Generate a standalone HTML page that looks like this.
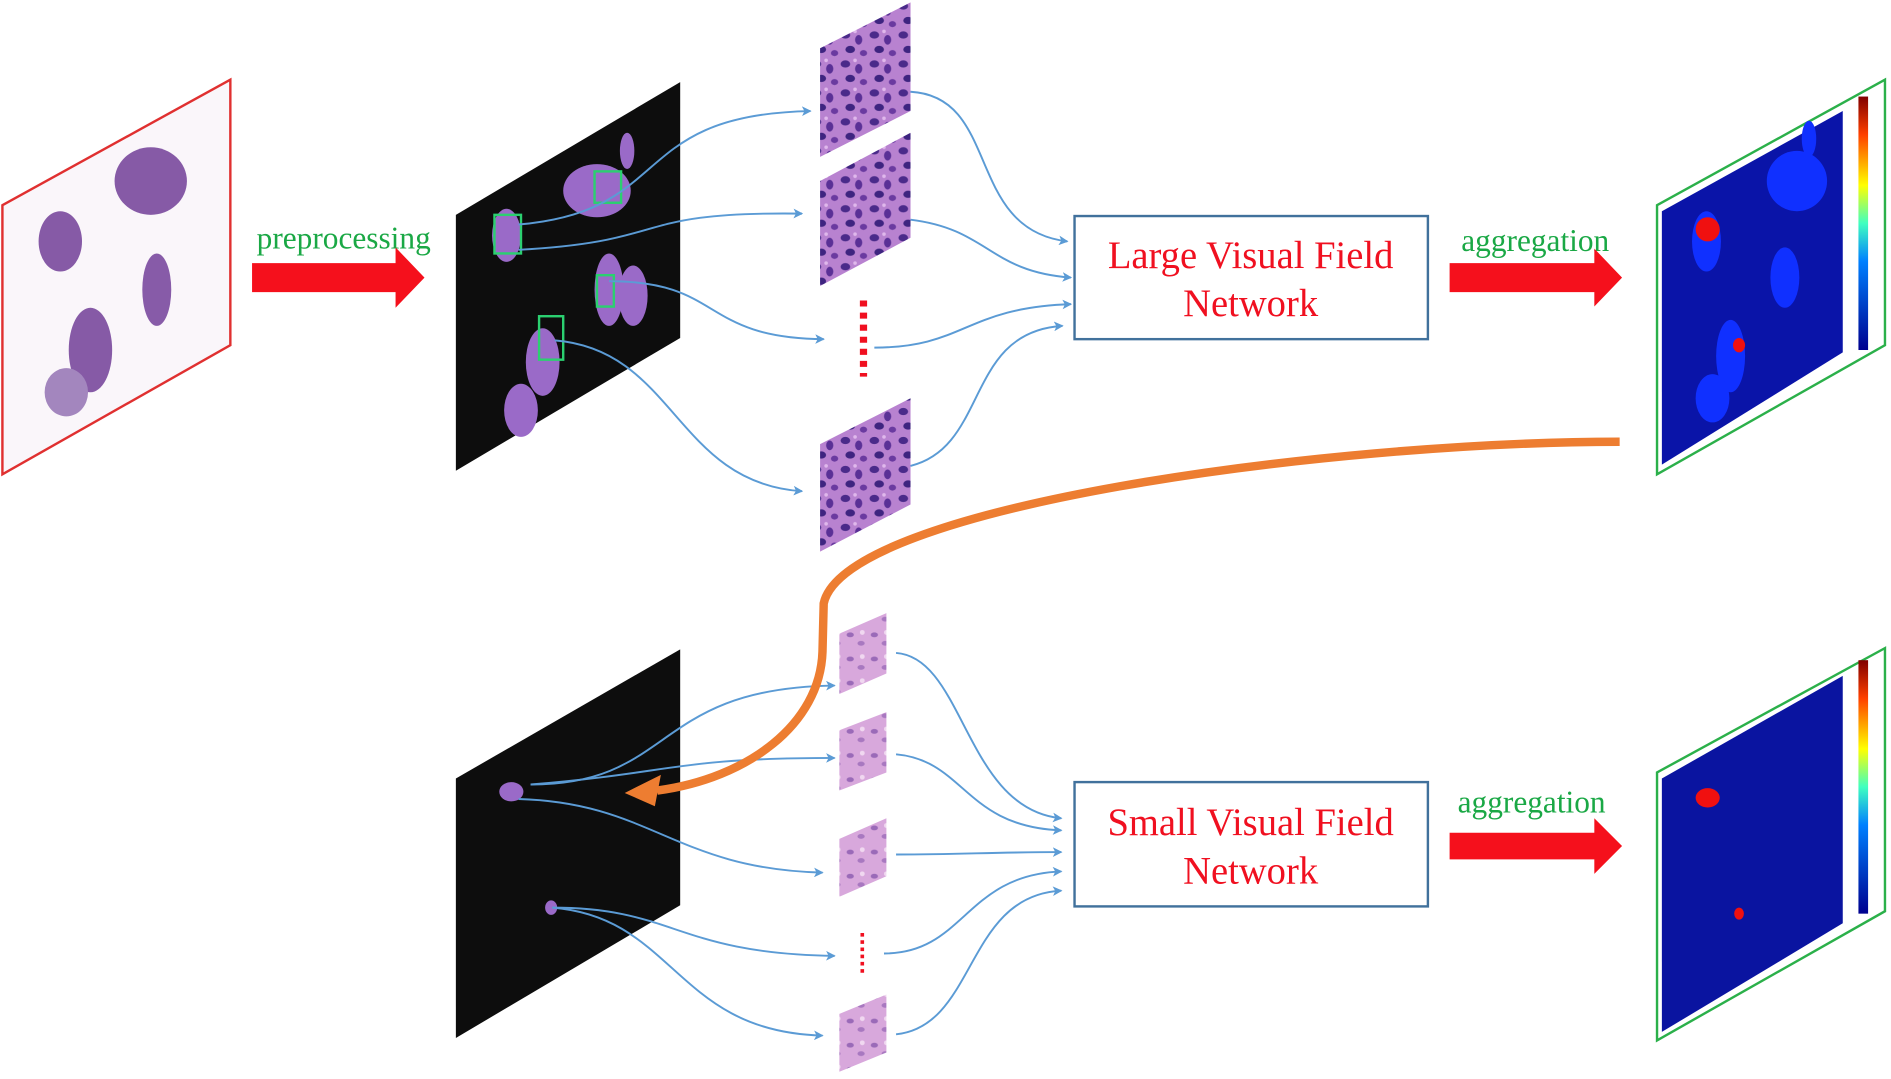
<!DOCTYPE html>
<html><head><meta charset="utf-8"><style>
html,body{margin:0;padding:0;background:#fff;}
svg{display:block}
</style></head><body>
<svg width="1891" height="1079" viewBox="0 0 1568 894" preserveAspectRatio="none" xmlns="http://www.w3.org/2000/svg">
<defs>
<pattern id="cells" width="24" height="24" patternUnits="userSpaceOnUse">
<rect width="24" height="24" fill="#b882d0"/>
<ellipse cx="5" cy="5" rx="4" ry="3" fill="#4a2a8a"/>
<ellipse cx="16" cy="9" rx="3" ry="4" fill="#5a3096"/>
<ellipse cx="9" cy="17" rx="4" ry="3" fill="#3e2480"/>
<ellipse cx="20" cy="20" rx="3" ry="2.5" fill="#6a3aa0"/>
<circle cx="13" cy="2" r="1.5" fill="#e0b8ec"/>
</pattern>
<pattern id="cells2" width="20" height="20" patternUnits="userSpaceOnUse">
<rect width="20" height="20" fill="#d8a8dc"/>
<ellipse cx="5" cy="6" rx="3" ry="2" fill="#9a6ab8"/>
<ellipse cx="14" cy="13" rx="3" ry="2" fill="#a878c0"/>
<circle cx="15" cy="4" r="2" fill="#f0d8f0"/>
</pattern>
<marker id="ba" markerWidth="8" markerHeight="8" refX="7" refY="4" orient="auto" markerUnits="userSpaceOnUse">
<path d="M0,0 L8,4 L0,8 L2,4 z" fill="#5b9bd5"/>
</marker>
<linearGradient id="cb" x1="0" y1="1" x2="0" y2="0"><stop offset="0" stop-color="#00008f"/><stop offset="0.35" stop-color="#0080ff"/><stop offset="0.5" stop-color="#40ffc0"/><stop offset="0.65" stop-color="#ffff00"/><stop offset="0.85" stop-color="#ff4000"/><stop offset="1" stop-color="#800000"/></linearGradient>
</defs>

<!-- slide 1 -->
<polygon points="2,170 191,66 191,286 2,393" fill="#faf6fa" stroke="#e03030" stroke-width="2"/>
<g fill="#7a4a9e" opacity="0.9">
<ellipse cx="50" cy="200" rx="18" ry="25"/>
<ellipse cx="125" cy="150" rx="30" ry="28"/>
<ellipse cx="130" cy="240" rx="12" ry="30"/>
<ellipse cx="75" cy="290" rx="18" ry="35"/>
<ellipse cx="55" cy="325" rx="18" ry="20" fill="#9a7ab8"/>
</g>

<text x="285" y="206" font-family="Liberation Serif, serif" font-size="26" fill="#1aa845" text-anchor="middle">preprocessing</text>
<polygon points="209,218 328,218 328,205 352,230 328,255 328,242 209,242" fill="#f5101c"/>

<!-- black slide top -->
<polygon points="378,178 564,68 564,280 378,390" fill="#0d0d0d"/>
<g fill="#9a6ac8">
<ellipse cx="495" cy="158" rx="28" ry="22"/>
<ellipse cx="520" cy="125" rx="6" ry="15"/>
<ellipse cx="420" cy="195" rx="12" ry="22"/>
<ellipse cx="505" cy="240" rx="12" ry="30"/>
<ellipse cx="525" cy="245" rx="12" ry="25"/>
<ellipse cx="450" cy="300" rx="14" ry="28"/>
<ellipse cx="432" cy="340" rx="14" ry="22"/>
</g>
<g fill="none" stroke="#2bd070" stroke-width="2">
<rect x="410" y="178" width="22" height="32"/><rect x="493" y="142" width="22" height="26"/>
<rect x="495" y="228" width="14" height="26"/><rect x="447" y="262" width="20" height="36"/>
</g>

<!-- top patches -->
<polygon points="680,40 755,2 755,92 680,130" fill="url(#cells)"/>
<polygon points="680,150 755,110 755,197 680,237" fill="url(#cells)"/>
<line x1="716" y1="249" x2="716" y2="312" stroke="#f01020" stroke-width="6" stroke-dasharray="5,5"/>
<polygon points="680,368 755,330 755,418 680,457" fill="url(#cells)"/>

<g fill="none" stroke="#5b9bd5" stroke-width="1.6" marker-end="url(#ba)">
<path d="M430,186 C560,175 520,95 672,92"/>
<path d="M430,207 C560,200 520,175 665,177"/>
<path d="M505,233 C600,233 580,280 683,281"/>
<path d="M460,282 C560,290 560,400 665,407"/>
<path d="M755,76 C830,80 800,190 885,200"/>
<path d="M755,182 C820,190 820,225 888,230"/>
<path d="M725,288 C800,288 800,255 888,252"/>
<path d="M755,386 C820,370 800,275 881,270"/>
</g>

<rect x="891" y="179" width="293" height="102" fill="#fff" stroke="#41719c" stroke-width="2"/>
<text x="1037" y="222" font-family="Liberation Serif, serif" font-size="32" fill="#f01020" text-anchor="middle">Large Visual Field</text>
<text x="1037" y="262" font-family="Liberation Serif, serif" font-size="32" fill="#f01020" text-anchor="middle">Network</text>

<text x="1273" y="208" font-family="Liberation Serif, serif" font-size="26" fill="#1aa845" text-anchor="middle">aggregation</text>
<polygon points="1202,218 1322,218 1322,206 1345,230 1322,254 1322,242 1202,242" fill="#f5101c"/>

<!-- heatmap top -->
<polygon points="1374,170 1563,66 1563,286 1374,393" fill="#fff" stroke="#2bb04a" stroke-width="2"/>
<polygon points="1378,175 1528,92 1528,292 1378,385" fill="#0a14a8"/>
<g fill="#1030ff">
<ellipse cx="1490" cy="150" rx="25" ry="25"/><ellipse cx="1500" cy="115" rx="6" ry="15"/>
<ellipse cx="1415" cy="200" rx="12" ry="25"/><ellipse cx="1480" cy="230" rx="12" ry="25"/>
<ellipse cx="1435" cy="295" rx="12" ry="30"/><ellipse cx="1420" cy="330" rx="14" ry="20"/>
</g>
<ellipse cx="1416" cy="190" rx="10" ry="10" fill="#f01010"/>
<ellipse cx="1442" cy="286" rx="5" ry="6" fill="#f01010"/>
<rect x="1541" y="80" width="8" height="210" fill="url(#cb)"/>

<!-- black slide bottom -->
<polygon points="378,645 564,538 564,750 378,860" fill="#0d0d0d"/>
<ellipse cx="424" cy="656" rx="10" ry="8" fill="#9a6ac8"/>
<ellipse cx="457" cy="752" rx="5" ry="6" fill="#9a6ac8"/>

<polygon points="696,525 735,508 735,558 696,575" fill="url(#cells2)"/>
<polygon points="696,605 735,590 735,640 696,655" fill="url(#cells2)"/>
<polygon points="696,695 735,678 735,726 696,743" fill="url(#cells2)"/>
<line x1="715" y1="773" x2="715" y2="806" stroke="#f01020" stroke-width="3" stroke-dasharray="3,3"/>
<polygon points="696,840 735,824 735,872 696,888" fill="url(#cells2)"/>

<g fill="none" stroke="#5b9bd5" stroke-width="1.6" marker-end="url(#ba)">
<path d="M440,650 C560,650 540,570 692,568"/>
<path d="M440,650 C560,640 560,628 692,628"/>
<path d="M430,662 C540,665 560,720 682,723"/>
<path d="M458,752 C560,752 560,790 692,792"/>
<path d="M458,752 C560,760 560,855 682,858"/>
<path d="M743,541 C800,545 800,670 880,678"/>
<path d="M743,625 C800,630 800,685 880,688"/>
<path d="M743,708 C800,708 820,706 880,706"/>
<path d="M733,790 C800,790 800,725 880,722"/>
<path d="M743,857 C810,850 800,742 880,738"/>
</g>

<!-- orange curve (on top) -->
<path d="M1343,366 C1100,366 700,420 683,500 L682,540 C680,600 620,645 545,655" fill="none" stroke="#ed7d31" stroke-width="7"/>
<polygon points="518,657 548,642 543,668" fill="#ed7d31"/>

<rect x="891" y="648" width="293" height="103" fill="#fff" stroke="#41719c" stroke-width="2"/>
<text x="1037" y="692" font-family="Liberation Serif, serif" font-size="32" fill="#f01020" text-anchor="middle">Small Visual Field</text>
<text x="1037" y="732" font-family="Liberation Serif, serif" font-size="32" fill="#f01020" text-anchor="middle">Network</text>

<text x="1270" y="673" font-family="Liberation Serif, serif" font-size="26" fill="#1aa845" text-anchor="middle">aggregation</text>
<polygon points="1202,690 1322,690 1322,678 1345,701 1322,724 1322,712 1202,712" fill="#f5101c"/>

<polygon points="1374,640 1563,537 1563,755 1374,862" fill="#fff" stroke="#2bb04a" stroke-width="2"/>
<polygon points="1378,645 1528,560 1528,765 1378,855" fill="#0a14a0"/>
<ellipse cx="1416" cy="661" rx="10" ry="8" fill="#f01010"/>
<ellipse cx="1442" cy="757" rx="4" ry="5" fill="#f01010"/>
<rect x="1541" y="547" width="8" height="210" fill="url(#cb)"/>
</svg>
</body></html>
